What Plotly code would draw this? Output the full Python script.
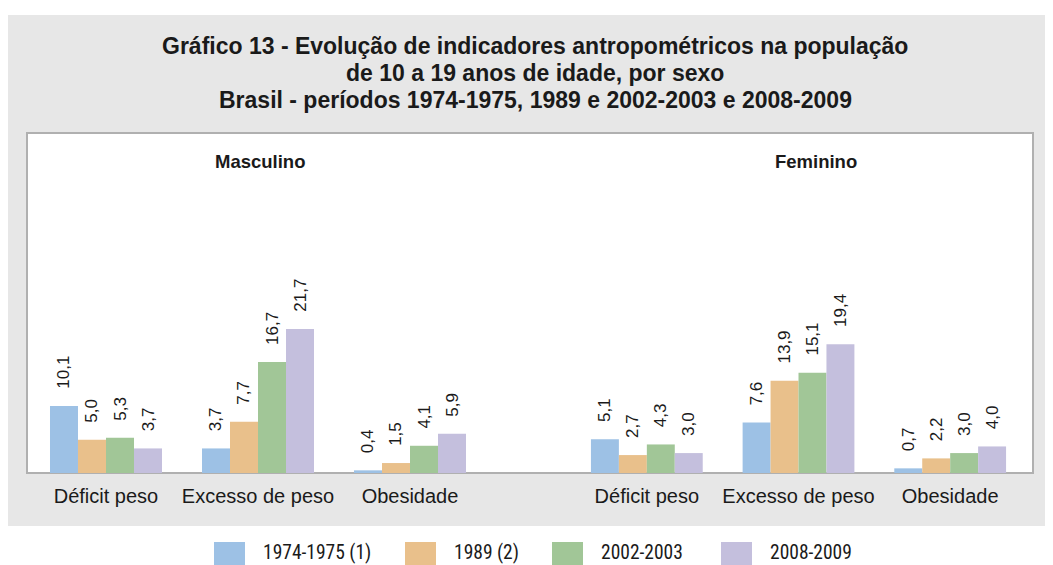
import plotly.graph_objects as go

categories = ["Déficit peso", "Excesso de peso", "Obesidade"]
series = ["1974-1975 (1)", "1989 (2)", "2002-2003", "2008-2009"]
masculino = {
    "1974-1975 (1)": [10.1, 3.7, 0.4],
    "1989 (2)": [5.0, 7.7, 1.5],
    "2002-2003": [5.3, 16.7, 4.1],
    "2008-2009": [3.7, 21.7, 5.9],
}
feminino = {
    "1974-1975 (1)": [5.1, 7.6, 0.7],
    "1989 (2)": [2.7, 13.9, 2.2],
    "2002-2003": [4.3, 15.1, 3.0],
    "2008-2009": [3.0, 19.4, 4.0],
}
colors = ["#9dc1e5", "#e9c08b", "#a1c697", "#c4bfdd"]

title_lines = [
    "Gráfico 13 - Evolução de indicadores antropométricos na população",
    "de 10 a 19 anos de idade, por sexo",
    "Brasil - períodos 1974-1975, 1989 e 2002-2003 e 2008-2009",
]
panel_labels = ["Masculino", "Feminino"]

NARROW = "Liberation Sans Narrow, Roboto Condensed, Arial Narrow, sans-serif"
SANS = "Liberation Sans, Arial, Helvetica, sans-serif"


def fmt(v):
    return "\u00a0\u00a0\u00a0" + f"{v:.1f}".replace(".", ",")


fig = go.Figure()
for i, s in enumerate(series):
    for data, xa in ((masculino, "x"), (feminino, "x2")):
        fig.add_trace(go.Bar(
            x=categories, y=data[s], name=s, xaxis=xa, yaxis="y",
            marker=dict(color=colors[i], line=dict(width=0)),
            text=[fmt(v) for v in data[s]], textposition="outside",
            textangle=-90, constraintext="none", cliponaxis=False,
            textfont=dict(family=SANS, size=17, color="#1a1a1a"),
            legendgroup=s, showlegend=False, hoverinfo="skip",
        ))

# page coordinates (the page body adds an 8px offset)
OFF = 8
W, H = 1053 - OFF, 565 - OFF
L, R, T, B = 27 - OFF, 1033 - OFF, 133 - OFF, 473 - OFF
pw, ph = R - L, B - T


def px(x):
    return (x - OFF - L) / pw


def py(y):
    return (B - (y - OFF)) / ph


shapes = [
    dict(type="rect", xref="paper", yref="paper", x0=px(6), x1=px(1060), y0=py(526), y1=py(15),
         fillcolor="#e7e7e7", line=dict(width=0), layer="below"),
    dict(type="rect", xref="paper", yref="paper", x0=0, x1=1, y0=0, y1=1,
         fillcolor="white", line=dict(color="#b0b0b0", width=2), layer="below"),
]
annotations = []

# title
for line, yc in zip(title_lines, [45.5, 73, 100.5]):
    annotations.append(dict(text=f"<b>{line}</b>", xref="paper", yref="paper", x=px(535), y=py(yc),
                            xanchor="center", yanchor="middle", showarrow=False,
                            font=dict(family=SANS, size=23, color="#1a1a1a")))

# panel labels
for lab, xc in zip(panel_labels, [260, 816]):
    annotations.append(dict(text=f"<b>{lab}</b>", xref="paper", yref="paper", x=px(xc), y=py(161),
                            xanchor="center", yanchor="middle", showarrow=False,
                            font=dict(family=SANS, size=18.5, color="#1a1a1a")))

# legend keys (drawn below the panel)
legend_left = [214, 405, 552, 721]
for s, c, x0 in zip(series, colors, legend_left):
    shapes.append(dict(type="rect", xref="paper", yref="paper", x0=px(x0), x1=px(x0 + 31),
                       y0=py(565), y1=py(542), fillcolor=c, line=dict(width=0)))
    annotations.append(dict(text=s, xref="paper", yref="paper", x=px(x0 + 48), y=py(565),
                            xanchor="left", yanchor="bottom", showarrow=False, borderpad=0,
                            font=dict(family=NARROW, size=19.5, color="#1a1a1a")))

tickfont = dict(family=SANS, size=20, color="#1a1a1a")
fig.update_layout(
    width=W, height=H,
    margin=dict(l=L, r=W - R, t=T, b=H - B, autoexpand=False),
    paper_bgcolor="white", plot_bgcolor="rgba(0,0,0,0)",
    barmode="group", bargap=0.263, bargroupgap=0,
    showlegend=False,
    xaxis=dict(domain=[0, px(486)], range=[-(106 - 27) / 152, 2.5], type="category",
               showgrid=False, zeroline=False, showline=False, ticks="",
               ticklabelstandoff=9, tickfont=tickfont, anchor="y"),
    xaxis2=dict(domain=[px(571), 1], range=[-0.5, 2 + (1033 - 950) / 152], type="category",
                showgrid=False, zeroline=False, showline=False, ticks="",
                ticklabelstandoff=9, tickfont=tickfont, anchor="y"),
    yaxis=dict(range=[0, 51.2], showgrid=False, zeroline=False, showline=False,
               showticklabels=False, ticks=""),
    shapes=shapes,
    annotations=annotations,
)

fig.write_html("out.html")
